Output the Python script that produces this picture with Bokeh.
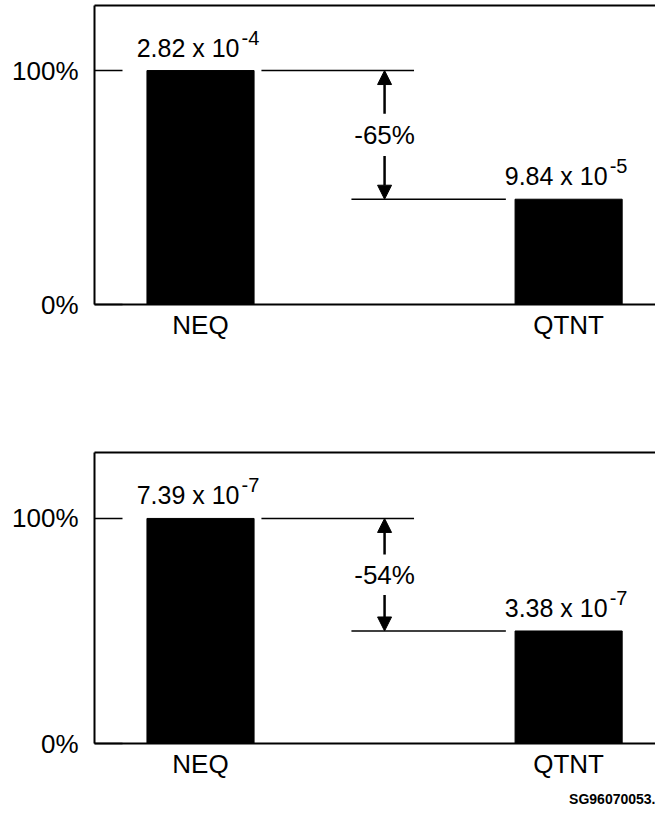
from bokeh.plotting import figure
from bokeh.models import Range1d, FixedTicker, LinearAxis, Arrow, NormalHead, Title, ColumnDataSource
from bokeh.layouts import column
from bokeh.embed import file_html
from bokeh.resources import INLINE
from bokeh.core.properties import value

# ---- data ----
categories = ["NEQ", "QTNT"]
panel1_pct = [100, 45]
panel1_mantissa = ["2.82 x 10", "9.84 x 10"]
panel1_exponent = ["-4", "-5"]
panel1_change = "-65%"
panel2_pct = [100, 50]
panel2_mantissa = ["7.39 x 10", "3.38 x 10"]
panel2_exponent = ["-7", "-7"]
panel2_change = "-54%"
y_ticks = [0, 100]
y_tick_labels = ["0%", "100%"]
footnote = "SG96070053."

FONT = "Liberation Sans"
BIG = "26px"
VAL = "25px"
SUP = "20px"
BAR_W = 0.291
WIDTH = 655


def make_panel(pct, mant, expo, change, height, border_top, border_bottom, y_end, note=None):
    xs = list(range(len(categories)))
    p = figure(width=WIDTH, height=height, output_backend="svg", toolbar_location=None,
               x_range=Range1d(-0.288, 1.236), y_range=Range1d(0, y_end),
               min_border_left=94, min_border_right=0,
               min_border_top=border_top, min_border_bottom=border_bottom)
    p.outline_line_color = None
    p.xgrid.visible = False
    p.ygrid.visible = False

    # y axis
    yax = p.yaxis[0]
    yax.ticker = FixedTicker(ticks=y_ticks)
    yax.major_label_overrides = {t: l for t, l in zip(y_ticks, y_tick_labels)}
    yax.major_tick_in = 28
    yax.major_tick_out = 0
    yax.minor_tick_in = 0
    yax.minor_tick_out = 0
    yax.axis_line_width = 2
    yax.major_tick_line_width = 1.5
    yax.major_label_text_font = FONT
    yax.major_label_text_font_size = BIG
    yax.major_label_text_color = "black"
    yax.major_label_standoff = 16

    # x axis
    xax = p.xaxis[0]
    xax.ticker = FixedTicker(ticks=xs)
    xax.major_label_overrides = {i: c for i, c in zip(xs, categories)}
    xax.major_tick_in = 0
    xax.major_tick_out = 0
    xax.minor_tick_in = 0
    xax.minor_tick_out = 0
    xax.axis_line_width = 2
    xax.major_label_text_font = FONT
    xax.major_label_text_font_size = BIG
    xax.major_label_text_color = "black"
    xax.major_label_standoff = 5

    # top border
    top = LinearAxis(ticker=FixedTicker(ticks=[]), axis_line_width=2,
                     major_tick_in=0, major_tick_out=0, minor_tick_in=0, minor_tick_out=0,
                     major_label_text_font_size="0px", major_label_standoff=0)
    p.add_layout(top, "above")

    src = ColumnDataSource(dict(x=xs, top=pct, mant=mant, expo=expo))
    p.vbar(x="x", top="top", width=BAR_W, source=src, color="black")

    p.text(x="x", y="top", text="mant", source=src, text_align="right",
           text_baseline="alphabetic", x_offset=39, y_offset=-23,
           text_font=value(FONT), text_font_size=VAL, text_color="black")
    p.text(x="x", y="top", text="expo", source=src, text_align="left",
           text_baseline="alphabetic", x_offset=41, y_offset=-33,
           text_font=value(FONT), text_font_size=SUP, text_color="black")

    # change annotation
    ax = (xs[0] + xs[1]) / 2
    mid = (pct[0] + pct[1]) / 2
    p.segment(x0=[xs[0] + BAR_W / 2 + 0.02], y0=[pct[0]], x1=[ax + 0.08], y1=[pct[0]],
              line_color="black", line_width=1.5)
    p.segment(x0=[ax - 0.09], y0=[pct[1]], x1=[xs[1] - BAR_W / 2 - 0.025], y1=[pct[1]],
              line_color="black", line_width=1.5)
    p.add_layout(Arrow(end=NormalHead(size=14, fill_color="black", line_color="black"),
                       x_start=ax, y_start=mid + 9, x_end=ax, y_end=pct[0],
                       line_color="black", line_width=2.5))
    p.add_layout(Arrow(end=NormalHead(size=14, fill_color="black", line_color="black"),
                       x_start=ax, y_start=mid - 9, x_end=ax, y_end=pct[1],
                       line_color="black", line_width=2.5))
    p.text(x=[ax], y=[mid], text=[change], text_align="center", text_baseline="middle",
           text_font=value(FONT), text_font_size=BIG, text_color="black")

    if note:
        p.add_layout(Title(text=note, align="right", text_font=FONT, text_font_size="14px",
                           text_font_style="bold", text_color="black", standoff=14), "below")
    return p


p1 = make_panel(panel1_pct, panel1_mantissa, panel1_exponent, panel1_change,
                440, 5, 136, 127.8)
p2 = make_panel(panel2_pct, panel2_mantissa, panel2_exponent, panel2_change,
                373, 12, 70, 129.3, footnote)

layout = column(p1, p2)
open("out.html", "w").write(file_html(layout, INLINE))
